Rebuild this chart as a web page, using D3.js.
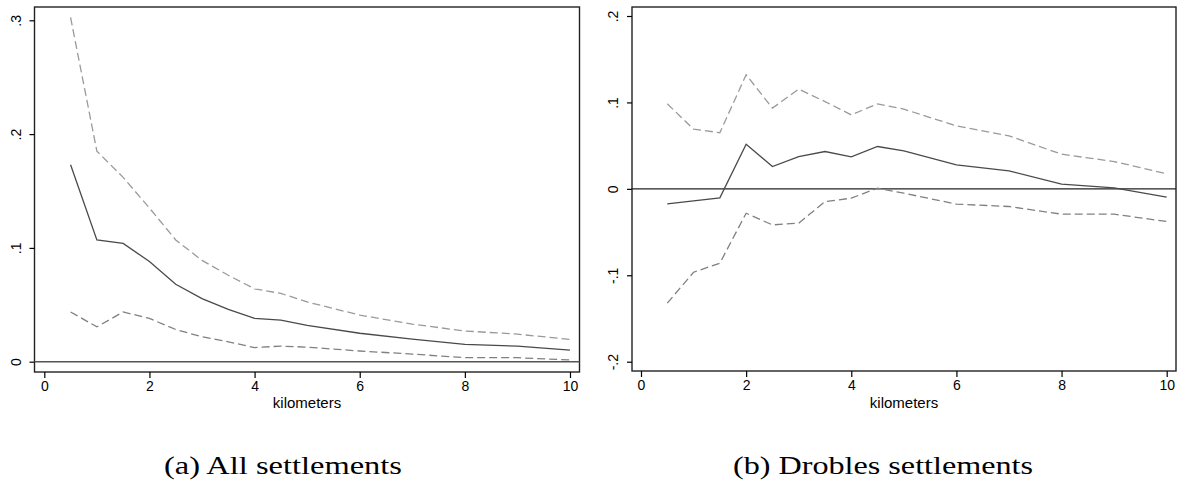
<!DOCTYPE html>
<html>
<head>
<meta charset="utf-8">
<script src="https://cdn.jsdelivr.net/npm/d3@7"></script>
<style>
body{margin:0;background:#fff;}
svg text{font-family:"Liberation Sans",Arial,sans-serif;}
</style>
</head>
<body>
<div id="chart"></div>
<script>
// distance bands (km)
var km=[0.5,1,1.5,2,2.5,3,3.5,4,4.5,5,6,7,8,9,10];
// panel a: all settlements
var allEst=[0.173,0.107,0.104,0.088,0.068,0.0555,0.046,0.038,0.0365,0.032,0.025,0.0198,0.0152,0.0137,0.0102];
var allHi=[0.3025,0.185,0.162,0.135,0.107,0.089,0.076,0.064,0.060,0.0525,0.041,0.033,0.027,0.0242,0.0196];
var allLo=[0.0437,0.0306,0.0437,0.038,0.0283,0.0219,0.0175,0.0124,0.0137,0.0128,0.0094,0.0067,0.0035,0.0035,0.0015];
// panel b: drobles settlements
var drobEst=[-0.0174,-0.0139,-0.0104,0.0517,0.0258,0.0374,0.0432,0.037,0.049,0.044,0.0278,0.0208,0.0054,0.0012,-0.0096];
var drobHi=[0.0984,0.069,0.065,0.132,0.0934,0.1154,0.101,0.0856,0.0984,0.0922,0.0729,0.0613,0.0401,0.0316,0.0174];
var drobLo=[-0.1323,-0.0965,-0.086,-0.0282,-0.0417,-0.0397,-0.0147,-0.0108,0.0008,-0.005,-0.0177,-0.0204,-0.0293,-0.0293,-0.0378];
var xTicks=[0,2,4,6,8,10];
var yTicksA=[0,0.1,0.2,0.3], yLabelsA=["0",".1",".2",".3"];
var yTicksB=[-0.2,-0.1,0,0.1,0.2], yLabelsB=["-.2","-.1","0",".1",".2"];
var xTitle="kilometers";
var captions=["(a) All settlements","(b) Drobles settlements"];

var W=1177,H=483;
var svg=d3.select('#chart').append('svg')
    .attr('width',W)
    .attr('height',H);

function drawPanel(p){
    var g=svg.append('g');
    var x=d3.scaleLinear().domain([0,10]).range([p.x0,p.x10]);
    var y=d3.scaleLinear().domain([p.yTicks[0],p.yTicks[p.yTicks.length-1]]).range([p.yBot,p.yTop]);

    // frame
    g.append('rect')
        .attr('x',p.left).attr('y',p.top)
        .attr('width',p.right-p.left).attr('height',p.bottom-p.top)
        .attr('fill','none').attr('stroke','#222').attr('stroke-width',1.4);

    // y axis, labels turned up the way stata does it
    var ya=g.append('g')
        .attr('transform','translate('+p.left+',0)')
        .call(d3.axisLeft(y).tickValues(p.yTicks).tickSize(5).tickPadding(0)
            .tickFormat(function(d,i){return p.yLabels[i];}));
    ya.select('.domain').remove();
    ya.selectAll('line').attr('stroke','#000').attr('stroke-width',1.2);
    ya.selectAll('text')
        .attr('x',null).attr('dy',null)
        .attr('text-anchor','middle')
        .attr('dominant-baseline','central')
        .attr('transform',function(d){return 'translate('+(p.labX-p.left)+',0) rotate(-90)';})
        .style('font-size','14px').attr('fill','#000');

    // x axis
    var xa=g.append('g')
        .attr('transform','translate(0,'+p.bottom+')')
        .call(d3.axisBottom(x).tickValues(xTicks).tickSize(6).tickPadding(3)
            .tickFormat(d3.format('d')));
    xa.select('.domain').remove();
    xa.selectAll('line').attr('stroke','#000').attr('stroke-width',1.2);
    xa.selectAll('text').style('font-size','14px').attr('fill','#000');

    g.append('text')
        .attr('x',(p.left+p.right)/2).attr('y',408)
        .attr('text-anchor','middle')
        .style('font-size','15px')
        .text(xTitle);

    // zero line
    g.append('line')
        .attr('x1',p.left).attr('x2',p.right)
        .attr('y1',y(0)).attr('y2',y(0))
        .attr('stroke',p.zeroCol).attr('stroke-width',p.zeroW);

    var line=d3.line()
        .x(function(d,i){return x(km[i]);})
        .y(function(d){return y(d);});

    g.append('path').datum(p.hi).attr('d',line)
        .attr('fill','none').attr('stroke','#9a9a9a').attr('stroke-width',1.3)
        .attr('stroke-dasharray','8,4');
    g.append('path').datum(p.lo).attr('d',line)
        .attr('fill','none').attr('stroke','#808080').attr('stroke-width',1.3)
        .attr('stroke-dasharray','8,4');
    g.append('path').datum(p.est).attr('d',line)
        .attr('fill','none').attr('stroke','#4a4a4a').attr('stroke-width',1.3);

    svg.append('text')
        .attr('x',p.capX).attr('y',473.5)
        .attr('text-anchor','middle')
        .attr('textLength',p.capW).attr('lengthAdjust','spacingAndGlyphs')
        .style('font-family','"Liberation Serif","Times New Roman",serif')
        .style('font-size','25px')
        .text(p.caption);
}

drawPanel({
    left:34.5,right:579.5,top:7,bottom:372,
    x0:44.3,x10:570,
    yTicks:yTicksA,yLabels:yLabelsA,yBot:361.7,yTop:20.3,
    labX:15.5,
    zeroCol:'#555',zeroW:1.6,
    est:allEst,hi:allHi,lo:allLo,
    caption:captions[0],capX:283,capW:238
});
drawPanel({
    left:632,right:1176,top:7,bottom:371,
    x0:641,x10:1166.7,
    yTicks:yTicksB,yLabels:yLabelsB,yBot:361.7,yTop:16,
    labX:612.5,
    zeroCol:'#222',zeroW:1.2,
    est:drobEst,hi:drobHi,lo:drobLo,
    caption:captions[1],capX:883,capW:300
});
</script>
</body>
</html>
